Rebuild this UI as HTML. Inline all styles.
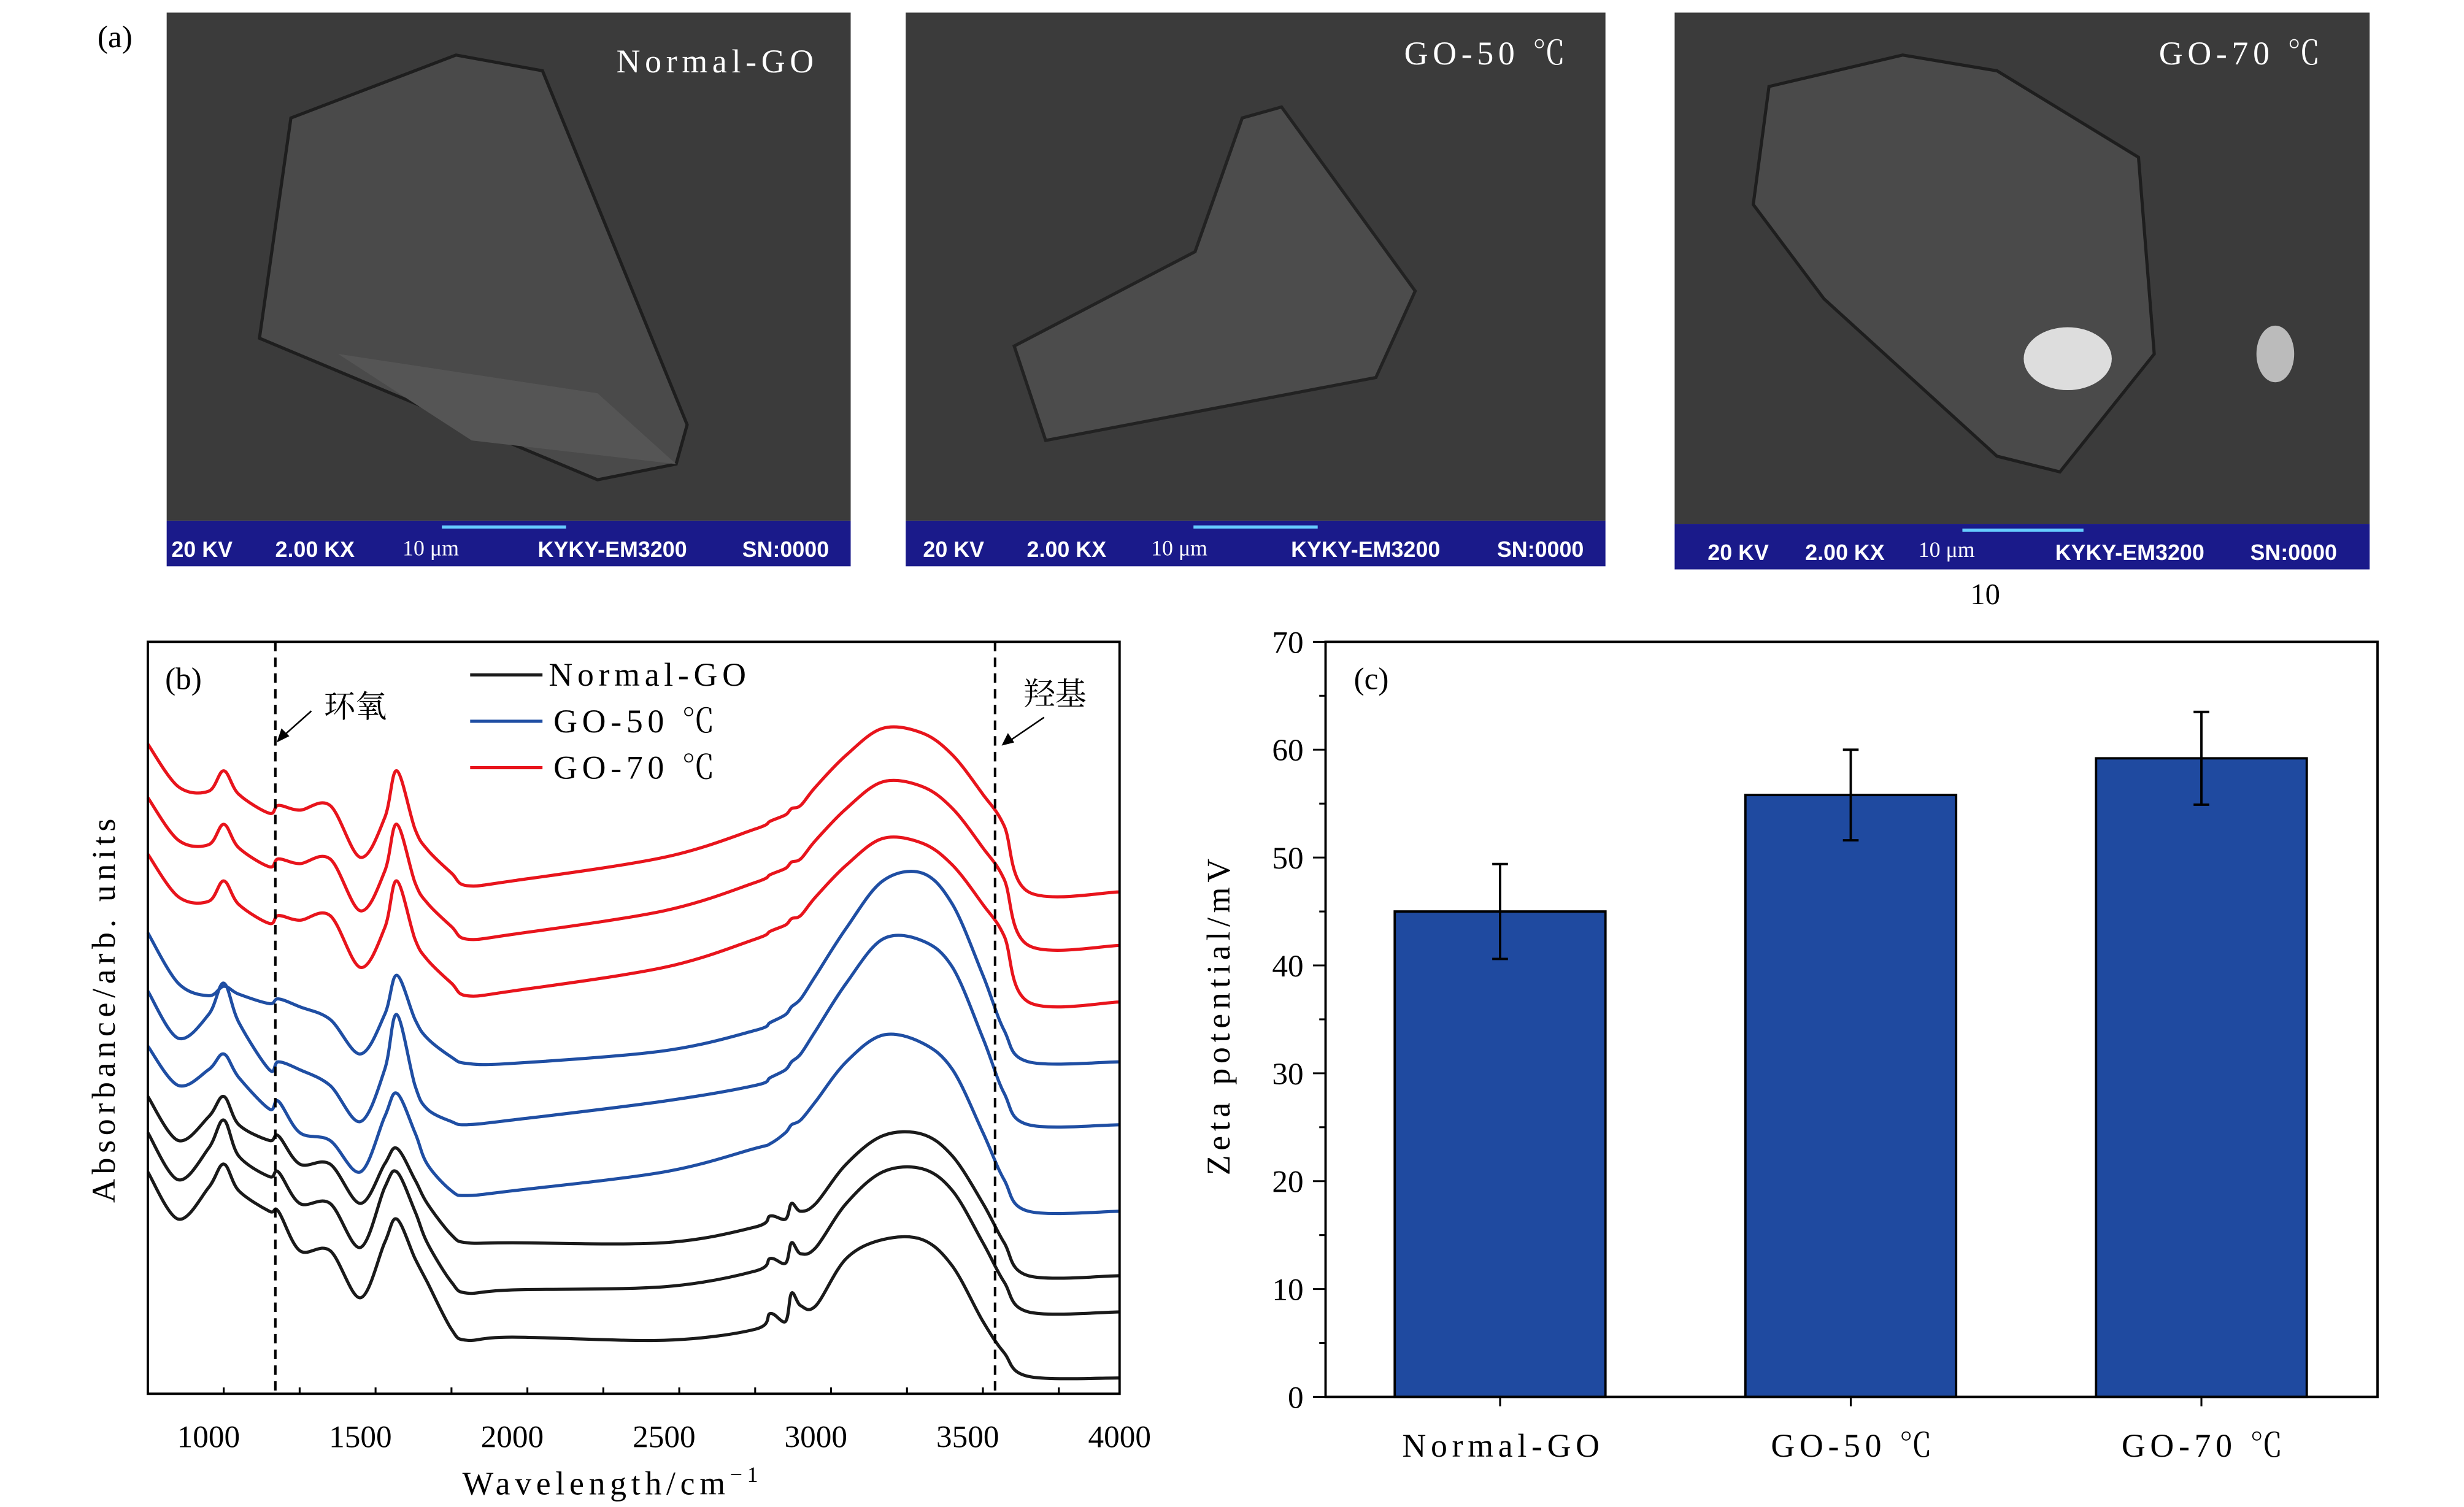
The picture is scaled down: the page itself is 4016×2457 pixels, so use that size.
<!DOCTYPE html>
<html><head><meta charset="utf-8"><style>
html,body{margin:0;padding:0;background:#fff;}
svg{display:block;}
text{font-family:"Liberation Serif","Noto Serif CJK SC",serif;}
.wide{letter-spacing:3px;}
.sem{font-family:"Liberation Sans",sans-serif;font-weight:bold;fill:#fff;font-size:14px;}
</style></head><body>
<svg id="fig" width="4016" height="2457" viewBox="0 0 1567 958" preserveAspectRatio="none" xmlns="http://www.w3.org/2000/svg">
<rect width="1567" height="958" fill="#fff"/>
<text x="62" y="30" font-size="20">(a)</text>

<g>
<rect x="106" y="8" width="435" height="323" fill="#3b3b3b"/>
<polygon points="185,75 290,35 345,45 437,270 430,295 380,305 165,215" fill="#4a4a4a" stroke="#1e1e1e" stroke-width="2"/>
<polygon points="215,225 380,250 430,295 300,280" fill="#555"/>
<rect x="106" y="331" width="435" height="29" fill="#1a1a8a"/>
<text class="sem" x="109" y="354">20 KV</text><text class="sem" x="175" y="354">2.00 KX</text>
<text x="256" y="353" font-size="14" fill="#fff">10 μm</text>
<line x1="281" y1="335" x2="360" y2="335" stroke="#6cf" stroke-width="2"/>
<text class="sem" x="342" y="354">KYKY-EM3200</text><text class="sem" x="472" y="354">SN:0000</text>
<text class="wide" x="392" y="46" font-size="21" fill="#fff">Normal-GO</text>
</g>

<g>
<rect x="576" y="8" width="445" height="323" fill="#3b3b3b"/>
<polygon points="790,75 815,68 900,185 875,240 665,280 645,220 760,160" fill="#4c4c4c" stroke="#222" stroke-width="2"/>
<rect x="576" y="331" width="445" height="29" fill="#1a1a8a"/>
<text class="sem" x="587" y="354">20 KV</text><text class="sem" x="653" y="354">2.00 KX</text>
<text x="732" y="353" font-size="14" fill="#fff">10 μm</text>
<line x1="759" y1="335" x2="838" y2="335" stroke="#6cf" stroke-width="2"/>
<text class="sem" x="821" y="354">KYKY-EM3200</text><text class="sem" x="952" y="354">SN:0000</text>
<text class="wide" x="893" y="41" font-size="21" fill="#fff">GO-50 ℃</text>
</g>

<g>
<rect x="1065" y="8" width="442" height="325" fill="#3b3b3b"/>
<polygon points="1125,55 1210,35 1270,45 1360,100 1370,225 1310,300 1270,290 1160,190 1115,130" fill="#4a4a4a" stroke="#1e1e1e" stroke-width="2"/>
<ellipse cx="1315" cy="228" rx="28" ry="20" fill="#ddd"/>
<ellipse cx="1447" cy="225" rx="12" ry="18" fill="#bbb"/>
<rect x="1065" y="333" width="442" height="29" fill="#1a1a8a"/>
<text class="sem" x="1086" y="356">20 KV</text><text class="sem" x="1148" y="356">2.00 KX</text>
<text x="1220" y="354" font-size="14" fill="#fff">10 μm</text>
<line x1="1248" y1="337" x2="1325" y2="337" stroke="#6cf" stroke-width="2"/>
<text class="sem" x="1307" y="356">KYKY-EM3200</text><text class="sem" x="1431" y="356">SN:0000</text>
<text class="wide" x="1373" y="41" font-size="21" fill="#fff">GO-70 ℃</text>
</g>
<text x="1253" y="384" font-size="19">10</text>

<g id="ftir"></g>
<g id="zeta"></g>
</svg>
<script>
const NS="http://www.w3.org/2000/svg";
function mk(parent,tag,attrs,txt){const e=document.createElementNS(NS,tag);for(const k in attrs)e.setAttribute(k,attrs[k]);if(txt!==undefined)e.textContent=txt;parent.appendChild(e);return e;}

// ---------- FTIR data ----------
const wavenumbers=[800,900,1000,1050,1100,1200,1230,1300,1400,1500,1580,1620,1680,1720,1800,1850,2000,2500,2800,2850,2900,2920,2950,3000,3100,3220,3350,3450,3550,3620,3700,4000];
const red1=[413,386,383,396,381,369,374,371,374,341,366,396,359,346,331,323,326,341,359,364,368,372,374,386,406,423,420,406,381,361,319,319];
const red2=[379,352,349,362,347,335,340,337,340,307,332,362,325,312,297,289,292,307,325,330,334,338,340,352,372,389,386,372,347,327,285,285];
const red3=[343,316,313,326,311,299,304,301,304,271,296,326,289,276,261,253,256,271,289,294,298,302,304,316,336,353,350,336,311,291,249,249];
const blue1=[293,261,253,259,254,248,251,246,238,216,241,266,238,226,214,210,210,218,231,236,241,246,251,266,296,326,331,311,266,231,211,211];
const blue2=[256,226,241,261,236,206,211,206,196,173,206,241,196,181,173,171,174,186,196,201,206,211,216,231,261,289,288,271,226,191,171,171];
const blue3=[221,196,206,216,201,181,186,166,161,141,176,191,166,146,129,126,129,141,156,159,166,171,174,186,211,228,223,206,166,136,116,116];
const black1=[189,161,176,189,171,161,164,146,146,121,146,156,136,121,101,96,96,96,106,113,111,121,116,121,146,164,165,151,121,96,75,75];
const black2=[166,136,156,174,151,138,141,121,121,93,131,141,116,96,71,64,66,68,78,86,83,96,89,93,121,141,143,129,96,71,52,52];
const black3=[141,111,131,146,129,116,116,91,91,61,96,111,86,71,41,34,36,34,41,51,46,64,56,56,86,98,98,81,46,26,11,10];
const xTicks=[1000,1500,2000,2500,3000,3500,4000];
const legendLabels=["Normal-GO","GO-50 ℃","GO-70 ℃"];

const fx=w=>94+(w-800)*618/3200;
const fy=v=>886-v;
function smooth(pts){
  let d='M'+pts[0][0].toFixed(1)+','+pts[0][1].toFixed(1);
  for(let i=0;i<pts.length-1;i++){
    const p0=pts[Math.max(0,i-1)],p1=pts[i],p2=pts[i+1],p3=pts[Math.min(pts.length-1,i+2)];
    const c1=[p1[0]+(p2[0]-p0[0])/6,p1[1]+(p2[1]-p0[1])/6],c2=[p2[0]-(p3[0]-p1[0])/6,p2[1]-(p3[1]-p1[1])/6];
    d+=`C${c1[0].toFixed(1)},${c1[1].toFixed(1)} ${c2[0].toFixed(1)},${c2[1].toFixed(1)} ${p2[0].toFixed(1)},${p2[1].toFixed(1)}`;
  }
  return d;
}
const g=document.getElementById('ftir');
const series=[[red1,'#e8141c','red-spectrum-1'],[red2,'#e8141c','red-spectrum-2'],[red3,'#e8141c','red-spectrum-3'],
[blue1,'#1f4ea3','blue-spectrum-1'],[blue2,'#1f4ea3','blue-spectrum-2'],[blue3,'#1f4ea3','blue-spectrum-3'],
[black1,'#1a1a1a','black-spectrum-1'],[black2,'#1a1a1a','black-spectrum-2'],[black3,'#1a1a1a','black-spectrum-3']];
series.forEach(s=>{
  const pts=s[0].map((v,i)=>[fx(wavenumbers[i]),fy(v)]);
  const p=mk(g,'path',{d:smooth(pts),fill:'none',stroke:s[1],'stroke-width':2,'stroke-linejoin':'round'});
  
  
});
const fr=mk(g,'rect',{x:94,y:408,width:618,height:478,fill:'none',stroke:'#000','stroke-width':1.5});


for(let w=800;w<=4000;w+=250){mk(g,'line',{x1:fx(w),x2:fx(w),y1:886,y2:w%500===0?878:882,stroke:'#000','stroke-width':1.2});}
xTicks.forEach(w=>{const t=mk(g,'text',{x:fx(w),y:920,'font-size':20,'text-anchor':'middle'},String(w));
  
  });
const xt=mk(g,'text',{x:294,y:950,'font-size':21,class:'wide'},'Wavelength/cm');


mk(xt,'tspan',{dy:-8,'font-size':14},'−1');
const yt=mk(g,'text',{x:0,y:0,'font-size':21,class:'wide','text-anchor':'middle',transform:'translate(73,641) rotate(-90)'},'Absorbance/arb. units');


mk(g,'text',{x:105,y:438,'font-size':20},'(b)');
[1220,3590].forEach(w=>{const l=mk(g,'line',{x1:fx(w),x2:fx(w),y1:408,y2:886,stroke:'#000','stroke-width':1.6,'stroke-dasharray':'6,4'});
  
  });
const lc=['#1a1a1a','#1f4ea3','#e8141c'];
legendLabels.forEach((lab,i)=>{const y=429+i*29.5;
  const le=mk(g,'g',{});
  
  
  mk(le,'line',{x1:299,x2:345,y1:y,y2:y,stroke:lc[i],'stroke-width':2});
  mk(le,'text',{x:i?352:349,y:y+7,'font-size':21,class:'wide'},lab);});
mk(g,'text',{x:206,y:456,'font-size':20},'环氧');
mk(g,'line',{x1:198,y1:452,x2:180,y2:468,stroke:'#000','stroke-width':1});
mk(g,'polygon',{points:'176,472 179,463 184,468',fill:'#000'});
mk(g,'text',{x:651,y:448,'font-size':20},'羟基');
mk(g,'line',{x1:664,y1:456,x2:642,y2:471,stroke:'#000','stroke-width':1});
mk(g,'polygon',{points:'637,474 641,466 645,472',fill:'#000'});

// ---------- Zeta data ----------
const categories=["Normal-GO","GO-50 ℃","GO-70 ℃"];
const zetaValues=[45.0,55.8,59.2];
const zetaErrors=[4.4,4.2,4.3];
const yTicks=[0,10,20,30,40,50,60,70];
const zg=document.getElementById('zeta');
const zy=v=>888-v*480/70;
const bx=i=>954+i*223;
categories.forEach((c,i)=>{
  const b=mk(zg,'rect',{x:bx(i)-67,y:zy(zetaValues[i]),width:134,height:zy(0)-zy(zetaValues[i]),fill:'#1f4aa0',stroke:'#000','stroke-width':1.5});
  
  
  const hi=zy(zetaValues[i]+zetaErrors[i]),lo=zy(zetaValues[i]-zetaErrors[i]);
  const eb=mk(zg,'path',{d:`M${bx(i)},${hi}V${lo}M${bx(i)-5},${hi}H${bx(i)+5}M${bx(i)-5},${lo}H${bx(i)+5}`,stroke:'#000','stroke-width':1.5,fill:'none'});
  
  
  mk(zg,'line',{x1:bx(i),x2:bx(i),y1:888,y2:894,stroke:'#000','stroke-width':1.2});
  const t=mk(zg,'text',{x:bx(i)+2,y:926,'font-size':21,class:'wide','text-anchor':'middle'},c);
  
  
});
const zf=mk(zg,'rect',{x:843,y:408,width:669,height:480,fill:'none',stroke:'#000','stroke-width':1.5});


for(let v=0;v<=70;v+=5){mk(zg,'line',{x1:843,x2:v%10===0?835:839,y1:zy(v),y2:zy(v),stroke:'#000','stroke-width':1.2});}
yTicks.forEach(v=>{const t=mk(zg,'text',{x:829,y:zy(v)+7,'font-size':20,'text-anchor':'end'},String(v));
  
  });
const zt=mk(zg,'text',{x:0,y:0,'font-size':21,class:'wide','text-anchor':'middle',transform:'translate(782,645) rotate(-90)'},'Zeta potential/mV');


mk(zg,'text',{x:861,y:438,'font-size':20},'(c)');
</script>
</body></html>
